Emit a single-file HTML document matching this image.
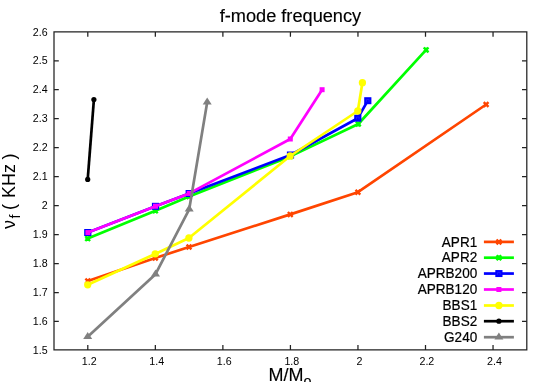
<!DOCTYPE html>
<html><head><meta charset="utf-8"><title>f-mode frequency</title>
<style>
html,body{margin:0;padding:0;background:#fff;}
body{width:545px;height:382px;overflow:hidden;position:relative;font-family:"Liberation Sans",sans-serif;}
svg{position:absolute;left:0;top:0;display:block;will-change:transform;}
text{font-family:"Liberation Sans",sans-serif;fill:#000;}
.tk{font-size:10.67px;}
.ky{font-size:13.55px;stroke:#000;stroke-width:0.2px;}
.lb{font-size:18px;stroke:#000;stroke-width:0.15px;}
.lb2{font-size:18.67px;}
</style></head><body>
<svg width="545" height="382" viewBox="0 0 545 382">
<rect x="0" y="0" width="545" height="382" fill="#ffffff"/>

<path d="M54.00 321.30h4.8M526.80 321.30h-4.8M54.00 292.70h4.8M526.80 292.70h-4.8M54.00 263.70h4.8M526.80 263.70h-4.8M54.00 234.70h4.8M526.80 234.70h-4.8M54.00 205.70h4.8M526.80 205.70h-4.8M54.00 176.71h4.8M526.80 176.71h-4.8M54.00 147.72h4.8M526.80 147.72h-4.8M54.00 118.73h4.8M526.80 118.73h-4.8M54.00 89.74h4.8M526.80 89.74h-4.8M54.00 60.75h4.8M526.80 60.75h-4.8M87.80 349.90v-4.8M87.80 31.90v4.8M155.34 349.90v-4.8M155.34 31.90v4.8M222.88 349.90v-4.8M222.88 31.90v4.8M290.42 349.90v-4.8M290.42 31.90v4.8M357.96 349.90v-4.8M357.96 31.90v4.8M425.50 349.90v-4.8M425.50 31.90v4.8M493.04 349.90v-4.8M493.04 31.90v4.8" stroke="#222" stroke-width="1.25" fill="none"/>
<path d="M54.00 31.27V350.52M526.80 31.27V350.52M54.00 31.90H526.80M54.00 349.90H526.80" stroke="#222" stroke-width="1.25" fill="none"/>
<text class="tk" x="47.6" y="353.50" text-anchor="end">1.5</text>
<text class="tk" x="47.6" y="324.60" text-anchor="end">1.6</text>
<text class="tk" x="47.6" y="295.70" text-anchor="end">1.7</text>
<text class="tk" x="47.6" y="266.80" text-anchor="end">1.8</text>
<text class="tk" x="47.6" y="237.90" text-anchor="end">1.9</text>
<text class="tk" x="47.6" y="209.00" text-anchor="end">2</text>
<text class="tk" x="47.6" y="180.10" text-anchor="end">2.1</text>
<text class="tk" x="47.6" y="151.20" text-anchor="end">2.2</text>
<text class="tk" x="47.6" y="122.30" text-anchor="end">2.3</text>
<text class="tk" x="47.6" y="93.40" text-anchor="end">2.4</text>
<text class="tk" x="47.6" y="64.00" text-anchor="end">2.5</text>
<text class="tk" x="47.6" y="35.60" text-anchor="end">2.6</text>
<text class="tk" x="89.20" y="364.6" text-anchor="middle">1.2</text>
<text class="tk" x="156.74" y="364.6" text-anchor="middle">1.4</text>
<text class="tk" x="224.28" y="364.6" text-anchor="middle">1.6</text>
<text class="tk" x="291.82" y="364.6" text-anchor="middle">1.8</text>
<text class="tk" x="359.36" y="364.6" text-anchor="middle">2</text>
<text class="tk" x="426.90" y="364.6" text-anchor="middle">2.2</text>
<text class="tk" x="494.44" y="364.6" text-anchor="middle">2.4</text>
<text class="lb" font-size="18.2px" transform="translate(290.4 21.75) scale(1 1.04)" text-anchor="middle" style="font-size:18.2px">f-mode frequency</text>
<text class="lb" transform="translate(268.6 381.3) scale(1 1.035)">M/M<tspan font-size="14.4px" dy="4.4">o</tspan></text>
<g transform="translate(14.9 0) rotate(-90) scale(1 1.07)"><text x="-228.90" y="0" font-size="18.0px">ν</text><text x="-218.50" y="5.2" font-size="14.4px">f</text><text x="-210.00" y="0" font-size="18.0px">(</text><text x="-198.10" y="0" font-size="18.0px">KHz</text><text x="-159.60" y="0" font-size="18.0px">)</text></g>
<path d="M87.80 281.00L155.30 258.00L189.00 247.00L290.30 214.40L357.90 192.20L486.10 104.50" stroke="#ff4500" stroke-width="2.7" fill="none" stroke-linejoin="round" stroke-linecap="butt"/>
<path d="M85.40 278.60L90.20 283.40M85.40 283.40L90.20 278.60" stroke="#ff4500" stroke-width="2.4" fill="none"/>
<path d="M152.90 255.60L157.70 260.40M152.90 260.40L157.70 255.60" stroke="#ff4500" stroke-width="2.4" fill="none"/>
<path d="M186.60 244.60L191.40 249.40M186.60 249.40L191.40 244.60" stroke="#ff4500" stroke-width="2.4" fill="none"/>
<path d="M287.90 212.00L292.70 216.80M287.90 216.80L292.70 212.00" stroke="#ff4500" stroke-width="2.4" fill="none"/>
<path d="M355.50 189.80L360.30 194.60M355.50 194.60L360.30 189.80" stroke="#ff4500" stroke-width="2.4" fill="none"/>
<path d="M483.70 102.10L488.50 106.90M483.70 106.90L488.50 102.10" stroke="#ff4500" stroke-width="2.4" fill="none"/>
<path d="M87.70 238.60L155.40 210.70L189.10 196.40L290.40 156.40L358.30 124.00L426.10 49.90" stroke="#00ff00" stroke-width="2.7" fill="none" stroke-linejoin="round" stroke-linecap="butt"/>
<path d="M85.30 236.20L90.10 241.00M85.30 241.00L90.10 236.20M85.30 238.60L90.10 238.60M87.70 236.20L87.70 241.00" stroke="#00ff00" stroke-width="2.4" fill="none"/>
<path d="M153.00 208.30L157.80 213.10M153.00 213.10L157.80 208.30M153.00 210.70L157.80 210.70M155.40 208.30L155.40 213.10" stroke="#00ff00" stroke-width="2.4" fill="none"/>
<path d="M186.70 194.00L191.50 198.80M186.70 198.80L191.50 194.00M186.70 196.40L191.50 196.40M189.10 194.00L189.10 198.80" stroke="#00ff00" stroke-width="2.4" fill="none"/>
<path d="M288.00 154.00L292.80 158.80M288.00 158.80L292.80 154.00M288.00 156.40L292.80 156.40M290.40 154.00L290.40 158.80" stroke="#00ff00" stroke-width="2.4" fill="none"/>
<path d="M355.90 121.60L360.70 126.40M355.90 126.40L360.70 121.60M355.90 124.00L360.70 124.00M358.30 121.60L358.30 126.40" stroke="#00ff00" stroke-width="2.4" fill="none"/>
<path d="M423.70 47.50L428.50 52.30M423.70 52.30L428.50 47.50M423.70 49.90L428.50 49.90M426.10 47.50L426.10 52.30" stroke="#00ff00" stroke-width="2.4" fill="none"/>
<path d="M87.80 232.50L155.50 206.30L189.20 193.50L290.50 155.00L357.80 118.20L367.80 100.70" stroke="#0000ff" stroke-width="2.7" fill="none" stroke-linejoin="round" stroke-linecap="butt"/>
<rect x="84.20" y="229.00" width="7.2" height="7.0" fill="#0000ff"/><path d="M86.50 233.60V231.30H89.10V233.60" stroke="#3535ff" stroke-width="0.5" fill="none"/>
<rect x="151.90" y="202.80" width="7.2" height="7.0" fill="#0000ff"/><path d="M154.20 207.40V205.10H156.80V207.40" stroke="#3535ff" stroke-width="0.5" fill="none"/>
<rect x="185.60" y="190.00" width="7.2" height="7.0" fill="#0000ff"/><path d="M187.90 194.60V192.30H190.50V194.60" stroke="#3535ff" stroke-width="0.5" fill="none"/>
<rect x="286.90" y="151.50" width="7.2" height="7.0" fill="#0000ff"/><path d="M289.20 156.10V153.80H291.80V156.10" stroke="#3535ff" stroke-width="0.5" fill="none"/>
<rect x="354.20" y="114.70" width="7.2" height="7.0" fill="#0000ff"/><path d="M356.50 119.30V117.00H359.10V119.30" stroke="#3535ff" stroke-width="0.5" fill="none"/>
<rect x="364.20" y="97.20" width="7.2" height="7.0" fill="#0000ff"/><path d="M366.50 101.80V99.50H369.10V101.80" stroke="#3535ff" stroke-width="0.5" fill="none"/>
<path d="M87.90 232.60L155.50 206.20L189.20 193.40L290.30 139.00L322.10 89.70" stroke="#ff00ff" stroke-width="2.7" fill="none" stroke-linejoin="round" stroke-linecap="butt"/>
<rect x="85.40" y="230.10" width="5.0" height="5.0" fill="#ff00ff"/>
<rect x="153.00" y="203.70" width="5.0" height="5.0" fill="#ff00ff"/>
<rect x="186.70" y="190.90" width="5.0" height="5.0" fill="#ff00ff"/>
<rect x="287.80" y="136.50" width="5.0" height="5.0" fill="#ff00ff"/>
<rect x="319.60" y="87.20" width="5.0" height="5.0" fill="#ff00ff"/>
<path d="M87.70 284.80L155.20 253.90L188.90 238.00L290.20 156.00L357.80 111.00L362.40 82.70" stroke="#ffff00" stroke-width="2.7" fill="none" stroke-linejoin="round" stroke-linecap="butt"/>
<circle cx="87.70" cy="284.80" r="3.65" fill="#ffff00"/>
<circle cx="155.20" cy="253.90" r="3.65" fill="#ffff00"/>
<circle cx="188.90" cy="238.00" r="3.65" fill="#ffff00"/>
<circle cx="290.20" cy="156.00" r="3.65" fill="#ffff00"/>
<circle cx="357.80" cy="111.00" r="3.65" fill="#ffff00"/>
<circle cx="362.40" cy="82.70" r="3.65" fill="#ffff00"/>
<path d="M87.70 179.40L93.90 99.60" stroke="#000000" stroke-width="2.7" fill="none" stroke-linejoin="round" stroke-linecap="butt"/>
<circle cx="87.70" cy="179.40" r="2.6" fill="#000000"/>
<circle cx="93.90" cy="99.60" r="2.6" fill="#000000"/>
<path d="M87.70 336.80L155.50 274.20L189.20 209.30L207.20 102.20" stroke="#808080" stroke-width="2.7" fill="none" stroke-linejoin="round" stroke-linecap="butt"/>
<path d="M83.20 339.00L92.20 339.00L87.70 332.00Z" fill="#808080"/>
<path d="M151.00 276.40L160.00 276.40L155.50 269.40Z" fill="#808080"/>
<path d="M184.70 211.50L193.70 211.50L189.20 204.50Z" fill="#808080"/>
<path d="M202.70 104.40L211.70 104.40L207.20 97.40Z" fill="#808080"/>
<text class="ky" transform="translate(477.2 246.65) scale(1 1.06)" text-anchor="end">APR1</text>
<path d="M483.9 241.9L513.9 241.9" stroke="#ff4500" stroke-width="2.7" fill="none"/>
<path d="M496.50 239.50L501.30 244.30M496.50 244.30L501.30 239.50" stroke="#ff4500" stroke-width="2.4" fill="none"/>
<text class="ky" transform="translate(477.2 262.45) scale(1 1.06)" text-anchor="end">APR2</text>
<path d="M483.9 257.7L513.9 257.7" stroke="#00ff00" stroke-width="2.7" fill="none"/>
<path d="M496.50 255.30L501.30 260.10M496.50 260.10L501.30 255.30M496.50 257.70L501.30 257.70M498.90 255.30L498.90 260.10" stroke="#00ff00" stroke-width="2.4" fill="none"/>
<text class="ky" transform="translate(477.2 278.30) scale(1 1.06)" text-anchor="end">APRB200</text>
<path d="M483.9 273.55L513.9 273.55" stroke="#0000ff" stroke-width="2.7" fill="none"/>
<rect x="495.30" y="270.05" width="7.2" height="7.0" fill="#0000ff"/><path d="M497.60 274.65V272.35H500.20V274.65" stroke="#3535ff" stroke-width="0.5" fill="none"/>
<text class="ky" transform="translate(477.2 294.25) scale(1 1.06)" text-anchor="end">APRB120</text>
<path d="M483.9 289.5L513.9 289.5" stroke="#ff00ff" stroke-width="2.7" fill="none"/>
<rect x="496.40" y="287.00" width="5.0" height="5.0" fill="#ff00ff"/>
<text class="ky" transform="translate(477.2 310.25) scale(1 1.06)" text-anchor="end">BBS1</text>
<path d="M483.9 305.5L513.9 305.5" stroke="#ffff00" stroke-width="2.7" fill="none"/>
<circle cx="498.90" cy="305.50" r="3.65" fill="#ffff00"/>
<text class="ky" transform="translate(477.2 325.95) scale(1 1.06)" text-anchor="end">BBS2</text>
<path d="M483.9 321.2L513.9 321.2" stroke="#000000" stroke-width="2.7" fill="none"/>
<circle cx="498.90" cy="321.20" r="2.6" fill="#000000"/>
<text class="ky" transform="translate(477.2 341.95) scale(1 1.06)" text-anchor="end">G240</text>
<path d="M483.9 337.2L513.9 337.2" stroke="#808080" stroke-width="2.7" fill="none"/>
<path d="M494.40 339.40L503.40 339.40L498.90 332.40Z" fill="#808080"/>
</svg></body></html>
